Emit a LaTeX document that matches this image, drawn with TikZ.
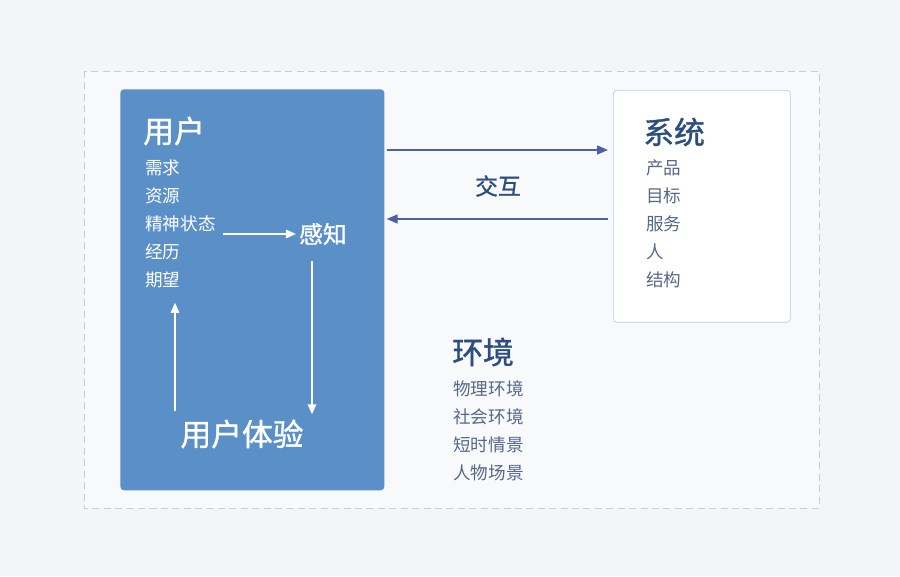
\documentclass[tikz,border=0pt]{standalone}
\usepackage{fontspec}
\setmainfont{Noto Sans CJK SC}
\newfontfamily\headfont{Noto Sans CJK SC}[FakeBold=1.2]
\usetikzlibrary{positioning,arrows.meta}

\definecolor{pagebg}{HTML}{F4F5F7}
\definecolor{framebg}{HTML}{F8F9FB}
\definecolor{framegray}{HTML}{C9CDD3}
\definecolor{userblue}{HTML}{5B8FC8}
\definecolor{sysborder}{HTML}{B9CBE3}
\definecolor{linkblue}{HTML}{4A60A8}
\definecolor{titleblue}{HTML}{2C4D7E}
\definecolor{itemgray}{HTML}{56688A}

\begin{document}
\begin{tikzpicture}[
x=0.02cm, y=-0.02cm,
node distance=0pt,
title/.style={anchor=west, inner sep=0pt, font=\headfont\fontsize{17.5}{19}\selectfont},
item/.style={inner sep=0pt, minimum height=0.545cm, font=\fontsize{10}{12}\selectfont},
warrow/.style={-{Triangle[length=2mm, width=1.7mm]}, white, line width=0.9pt},
iarrow/.style={-{Triangle[length=2.2mm, width=1.8mm]}, linkblue, line width=0.8pt}
]
% page and dashed frame
\fill[pagebg] (0,0) rectangle (900,576);
\draw[framegray, fill=framebg, dash pattern=on 4pt off 2.5pt] (84,71) rectangle (819,508);

% user side
\node[fill=userblue, rounded corners=2pt, anchor=north west, minimum width=5.28cm, minimum height=8.02cm, inner sep=0pt] (user) at (120,89) {};
\node[title, white] (usertitle) at (143,131) {用户};
\node[item, white, anchor=west] (xuqiu) at (145,168) {需求};
\node[item, white, below=0pt of xuqiu.south west, anchor=north west] (ziyuan) {资源};
\node[item, white, below=0pt of ziyuan.south west, anchor=north west] (jingshen) {精神状态};
\node[item, white, below=0pt of jingshen.south west, anchor=north west] (jingli) {经历};
\node[item, white, below=0pt of jingli.south west, anchor=north west] (qiwang) {期望};
\node[white, inner sep=0pt, font=\headfont\fontsize{13.5}{15}\selectfont] (ganzhi) at (323,234) {感知};
\node[white, inner sep=0pt, font=\headfont\fontsize{17.5}{20}\selectfont] (tiyan) at (242,434) {用户体验};

\coordinate (downx) at (312,0);
\coordinate (upx) at (175,0);
\draw[warrow] ([xshift=0.14cm]jingshen.east |- ganzhi.west) -- ([xshift=-0.06cm]ganzhi.west);
\draw[warrow] ([yshift=-0.32cm]ganzhi.south -| downx) -- ([yshift=0.1cm]tiyan.north -| downx);
\draw[warrow] ([yshift=0.16cm]tiyan.north -| upx) -- ([yshift=-0.18cm]qiwang.south -| upx);

% system side
\node[draw=sysborder, fill=white, rounded corners=2pt, anchor=north west, minimum width=3.54cm, minimum height=4.64cm, inner sep=0pt] (system) at (613,90) {};
\node[title, titleblue] (systitle) at (643,132) {系统};
\node[item, itemgray, anchor=west] (chanpin) at (646,168) {产品};
\node[item, itemgray, below=0pt of chanpin.south west, anchor=north west] (mubiao) {目标};
\node[item, itemgray, below=0pt of mubiao.south west, anchor=north west] (fuwu) {服务};
\node[item, itemgray, below=0pt of fuwu.south west, anchor=north west] (ren) {人};
\node[item, itemgray, below=0pt of ren.south west, anchor=north west] (jiegou) {结构};

% interaction
\draw[iarrow] ([xshift=0.04cm, yshift=-1.22cm]user.north east) -- ([xshift=-0.1cm, yshift=-1.2cm]system.north west);
\draw[iarrow] ([xshift=-0.1cm, yshift=-2.58cm]system.north west) -- ([xshift=0.04cm, yshift=-2.6cm]user.north east);
\node[titleblue, inner sep=0pt, font=\headfont\fontsize{13}{15}\selectfont] (jiaohu) at (498,186) {交互};

% environment
\node[title, titleblue] (envtitle) at (452,352) {环境};
\node[item, itemgray, anchor=west] (wuli) at (453,389) {物理环境};
\node[item, itemgray, below=0pt of wuli.south west, anchor=north west] (shehui) {社会环境};
\node[item, itemgray, below=0pt of shehui.south west, anchor=north west] (duanshi) {短时情景};
\node[item, itemgray, below=0pt of duanshi.south west, anchor=north west] (renwu) {人物场景};
\end{tikzpicture}
\end{document}
